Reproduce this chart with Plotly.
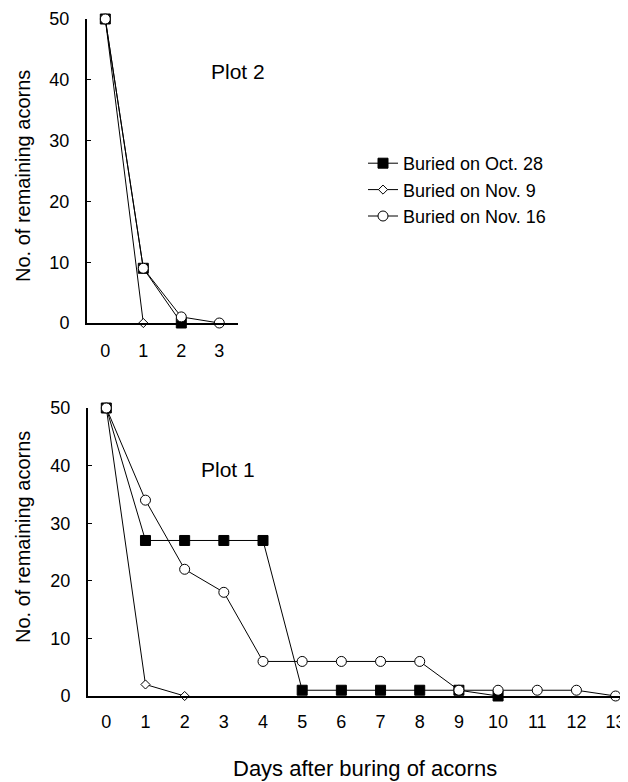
import plotly.graph_objects as go

# ---- data ----
days_plot2 = [0, 1, 2, 3]
p2_oct28 = [50, 9, 0]
p2_nov9 = [50, 0]
p2_nov16 = [50, 9, 1, 0]

days_plot1 = list(range(14))
p1_oct28 = [50, 27, 27, 27, 27, 1, 1, 1, 1, 1, 0]
p1_nov9 = [50, 2, 0]
p1_nov16 = [50, 34, 22, 18, 6, 6, 6, 6, 6, 1, 1, 1, 1, 0]

series_names = ["Buried on Oct. 28", "Buried on Nov. 9", "Buried on Nov. 16"]
y_ticks = [0, 10, 20, 30, 40, 50]
x_title = "Days after buring of acorns"
y_title = "No. of remaining acorns"

FONT = "Liberation Sans, Arial, sans-serif"
PAGE_W, PAGE_H = 628, 782
OFF = 8  # default body margin of the html page
W, H = PAGE_W - OFF, PAGE_H - OFF

styles = [
    dict(symbol="square", size=10, color="black", line=dict(color="black", width=1)),
    dict(symbol="diamond", size=7, color="white", line=dict(color="black", width=1)),
    dict(symbol="circle", size=10, color="white", line=dict(color="black", width=1)),
]

fig = go.Figure()

plot1 = [p1_oct28, p1_nov9, p1_nov16]
plot2 = [p2_oct28, p2_nov9, p2_nov16]

for i, (name, vals) in enumerate(zip(series_names, plot1)):
    fig.add_trace(go.Scatter(
        x=days_plot1[:len(vals)], y=vals, name=name, mode="lines+markers",
        line=dict(color="black", width=1), marker=styles[i],
        xaxis="x", yaxis="y", cliponaxis=False, showlegend=True,
        legendgroup=name,
    ))

for i, (name, vals) in enumerate(zip(series_names, plot2)):
    fig.add_trace(go.Scatter(
        x=days_plot2[:len(vals)], y=vals, name=name, mode="lines+markers",
        line=dict(color="black", width=1), marker=styles[i],
        xaxis="x2", yaxis="y2", cliponaxis=False, showlegend=False,
        legendgroup=name,
    ))

def px_x(p):
    return (p - OFF) / W

def px_y(p):
    return (H - (p - OFF)) / H

axis_common = dict(showgrid=False, zeroline=False, showline=True, linecolor="black",
                   linewidth=2, automargin=False,
                   tickfont=dict(family=FONT, size=18, color="black"))

def ann(text, x, y, size, angle=0):
    return dict(text=text, x=px_x(x), y=px_y(y), xref="paper", yref="paper",
                xanchor="center", yanchor="middle", showarrow=False, textangle=angle,
                font=dict(family=FONT, size=size, color="black"))

fig.update_layout(
    width=W, height=H,
    margin=dict(l=0, r=0, t=0, b=0, autoexpand=False),
    paper_bgcolor="white", plot_bgcolor="white",
    font=dict(family=FONT, color="black"),
    showlegend=True,
    legend=dict(x=px_x(363), y=px_y(145), xanchor="left", yanchor="top",
                bgcolor="rgba(0,0,0,0)", borderwidth=0,
                font=dict(family=FONT, size=18, color="black"),
                traceorder="grouped", tracegroupgap=0),
    xaxis=dict(domain=[px_x(88), 1.0], range=[-0.467, 13.316], anchor="y",
               tickmode="array", tickvals=days_plot1, ticktext=[str(d) for d in days_plot1],
               ticks="", ticklabelstandoff=8, **axis_common),
    yaxis=dict(domain=[px_y(696), px_y(408)], range=[0, 50], anchor="x",
               tickmode="array", tickvals=y_ticks, ticks="inside", ticklen=4,
               tickcolor="black", tickwidth=1, ticklabelstandoff=12,
               **axis_common),
    xaxis2=dict(domain=[px_x(87), px_x(238)], range=[-0.482, 3.492], anchor="y2",
                tickmode="array", tickvals=days_plot2, ticktext=[str(d) for d in days_plot2],
                ticks="", ticklabelstandoff=10, **axis_common),
    yaxis2=dict(domain=[px_y(323), px_y(19)], range=[0, 50], anchor="x2",
                tickmode="array", tickvals=y_ticks, ticks="inside", ticklen=4,
                tickcolor="black", tickwidth=1, ticklabelstandoff=12,
                **axis_common),
    annotations=[
        ann("Plot 2", 238, 71, 21),
        ann("Plot 1", 228, 469, 21),
        ann(x_title, 365, 768, 22),
        ann(y_title, 23, 176, 20, -90),
        ann(y_title, 23, 537, 20, -90),
    ],
)

fig.write_html("out.html")
